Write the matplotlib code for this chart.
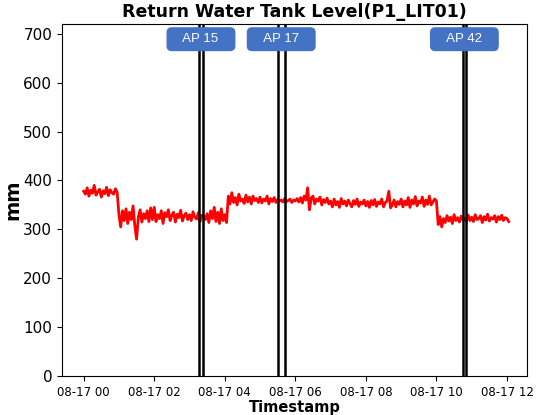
import pandas as pd
import matplotlib
matplotlib.use("Agg")
import matplotlib.pyplot as plt
import matplotlib.dates as mdates
import matplotlib.transforms as mtransforms

# tank level, one reading every 3 minutes from 08-17 00:00 (20 per hour)
level = [
    378, 372, 385, 368, 380, 374, 390, 370, 377, 382, 366, 379, 373, 386, 369, 381, 375, 372, 383, 376,
    330, 305, 338, 318, 342, 312, 335, 320, 348, 308, 280, 325, 340, 315, 332, 322, 338, 316, 344, 320,
    345, 316, 330, 322, 338, 312, 334, 326, 340, 318, 329, 335, 315, 331, 324, 339, 317, 328, 333, 320,
    330, 318, 336, 325, 321, 334, 316, 329, 327, 320, 332, 314, 338, 322, 345, 316, 335, 312, 342, 318,
    330, 314, 368, 352, 375, 355, 365, 350, 372, 358, 362, 353, 370, 356, 366, 352, 368, 359, 363, 355,
    366, 354, 362, 358, 368, 352, 363, 357, 365, 355, 361, 358, 360, 356, 363, 357, 359, 362, 355, 360,
    358, 363, 356, 365, 354, 368, 360, 385, 340, 364, 368, 352, 362, 358, 366, 350, 361, 355, 364, 352,
    358, 346, 362, 350, 357, 345, 363, 352, 358, 348, 360, 353, 346, 359, 351, 362, 347, 356, 352, 360,
    348, 357, 345, 359, 350, 361, 347, 356, 352, 362, 346, 355, 358, 378, 344, 350, 360, 346, 357, 351,
    362, 346, 358, 350, 365, 345, 360, 352, 367, 348, 358, 354, 366, 347, 360, 351, 368, 350, 356, 362,
    358, 310, 326, 305, 322, 314, 328, 317, 325, 312, 330, 318, 324, 315, 327, 319, 323, 316, 329, 318,
    325, 316, 330, 320, 322, 328, 314, 326, 319, 331, 317, 324, 321, 328, 315, 326, 320, 329, 318, 324,
    322, 316,
]
times = pd.date_range("2023-08-17 00:00", periods=len(level), freq="3min")

# attack windows (start, end) and their labels
ap_names = ["AP 15", "AP 17", "AP 42"]
ap_start = ["2023-08-17 03:16", "2023-08-17 05:30", "2023-08-17 10:45"]
ap_end = ["2023-08-17 03:23", "2023-08-17 05:42", "2023-08-17 10:50"]

fig = plt.figure(figsize=(5.43, 4.15), dpi=100)
ax = fig.add_axes([0.114, 0.094, 0.8565, 0.848])

ax.plot(times, level, color="red", lw=2)

trans = mtransforms.blended_transform_factory(ax.transData, ax.transAxes)
for name, s, e in zip(ap_names, ap_start, ap_end):
    s = pd.Timestamp(s)
    e = pd.Timestamp(e)
    ax.axvline(s, color="black", lw=1.8)
    ax.axvline(e, color="black", lw=1.8)
    mid = s + (e - s) / 2
    ax.text(mid, 0.957, "   " + name + "   ", transform=trans, ha="center", va="center",
            color="white", fontsize=9.5, family="Liberation Sans",
            bbox=dict(boxstyle="round,pad=0.4,rounding_size=0.35",
                      fc="#4472C4", ec="#4472C4"))

ax.set_xlim(pd.Timestamp("2023-08-17 00:00") - pd.Timedelta(minutes=37),
            pd.Timestamp("2023-08-17 12:34"))
ax.set_ylim(0, 720)
ax.xaxis.set_major_locator(mdates.HourLocator(interval=2))
ax.xaxis.set_major_formatter(mdates.DateFormatter("%m-%d %H"))
ax.tick_params(axis="x", labelsize=8.5)
ax.tick_params(axis="y", labelsize=11)

ax.set_title("Return Water Tank Level(P1_LIT01)", fontsize=12.5, fontweight="bold", pad=5)
ax.set_xlabel("Timestamp", fontsize=10.5, fontweight="bold", labelpad=1)
ax.set_ylabel("mm", fontsize=14, fontweight="bold")
ax.yaxis.set_label_coords(-0.085, 0.5)

fig.savefig("out.png", dpi=100)
